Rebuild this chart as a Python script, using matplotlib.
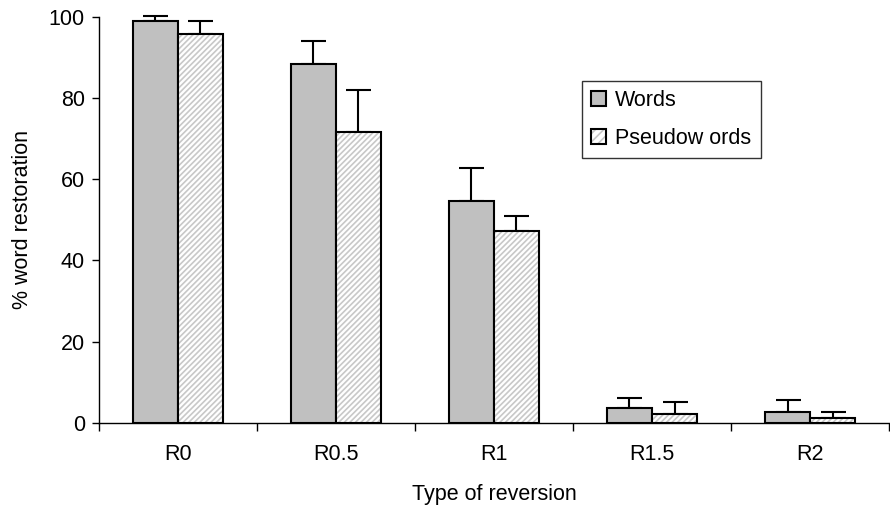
import numpy as np
import matplotlib
matplotlib.use("Agg")
import matplotlib.pyplot as plt
from matplotlib.patches import Patch

plt.rcParams['font.family'] = ['Liberation Sans', 'DejaVu Sans']
plt.rcParams['hatch.linewidth'] = 1.2

categories = ["R0", "R0.5", "R1", "R1.5", "R2"]
words = [99.0, 88.2, 54.7, 3.7, 2.7]
words_err = [1.2, 5.8, 8.0, 2.5, 3.0]
pseudowords = [95.6, 71.5, 47.3, 2.2, 1.2]
pseudowords_err = [3.4, 10.4, 3.7, 3.0, 1.5]

x = np.arange(len(categories))
width = 0.285
fs = 15.5

fig = plt.figure(figsize=(8.9, 5.17), dpi=100)
ax = fig.add_axes([0.111, 0.182, 0.888, 0.786])

err_kw = dict(elinewidth=1.5, capsize=9, capthick=1.5, ecolor="black")
ax.bar(x - width / 2, words, width, color="#c0c0c0", edgecolor="black",
       linewidth=1.5, zorder=2)
ax.bar(x + width / 2, pseudowords, width, color="white", edgecolor="#c8c8c8",
       hatch="//////", linewidth=0, zorder=2)
# black outline on top of the hatched bars
ax.bar(x + width / 2, pseudowords, width, color="none", edgecolor="black",
       linewidth=1.5, zorder=3)

# upper error bars only
for xs, vals, errs in [(x - width / 2, words, words_err),
                       (x + width / 2, pseudowords, pseudowords_err)]:
    ebar = ax.errorbar(xs, vals, yerr=[np.zeros(len(errs)), errs], fmt="none",
                       zorder=1, **err_kw)
    for art in ebar.lines[1] + ebar.lines[2]:
        art.set_clip_on(False)

ax.set_xlim(-0.5, 4.5)
ax.set_ylim(0, 100)
ax.set_yticks([0, 20, 40, 60, 80, 100])
ax.set_xticks(x)
ax.set_xticklabels(categories)
ax.set_xticks(np.arange(-0.5, 4.6, 1), minor=True)
ax.tick_params(axis="x", which="major", length=0, pad=15, labelsize=fs)
ax.tick_params(axis="x", which="minor", length=6, width=1)
ax.tick_params(axis="y", length=5, width=1, labelsize=fs, pad=5)

ax.spines["top"].set_visible(False)
ax.spines["right"].set_visible(False)
ax.spines["left"].set_linewidth(1)
ax.spines["bottom"].set_linewidth(1)

ax.set_xlabel("Type of reversion", fontsize=fs, labelpad=14)
ax.set_ylabel("% word restoration", fontsize=fs, labelpad=11)

h_words = Patch(facecolor="#c0c0c0", edgecolor="black", linewidth=1.5)
h_pseudo = (Patch(facecolor="white", edgecolor="#c8c8c8", hatch="////", linewidth=0),
            Patch(facecolor="none", edgecolor="black", linewidth=1.5))
ax.legend([h_words, h_pseudo], ["Words", "Pseudow ords"],
          loc="upper left", bbox_to_anchor=(0.611, 0.842), frameon=True,
          fancybox=False, edgecolor="black", fontsize=fs, handlelength=0.7,
          handleheight=0.7, handletextpad=0.4, labelspacing=0.75,
          borderpad=0.45, borderaxespad=0)

fig.savefig("out.png", dpi=100)
